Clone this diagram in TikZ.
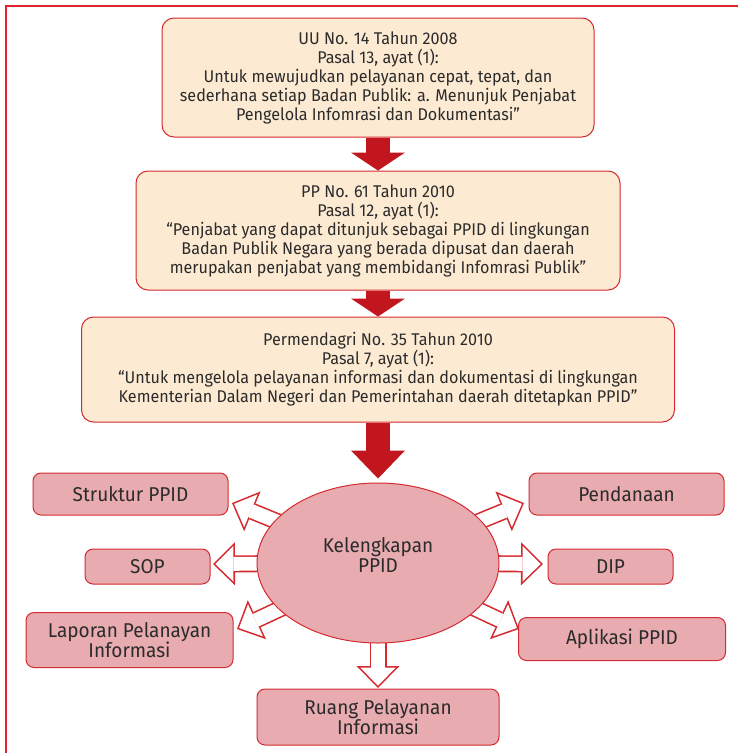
\documentclass[tikz,border=0pt]{standalone}
\usepackage{fontspec}
\setmainfont{Fira Sans}[FakeStretch=0.95]
\usetikzlibrary{positioning,shapes.geometric,arrows.meta,backgrounds}
\definecolor{arrred}{HTML}{C1161D}
\definecolor{lnred}{HTML}{D42A30}
\definecolor{framered}{HTML}{E0242C}
\definecolor{peach}{HTML}{FDEAD2}
\definecolor{rosy}{HTML}{E8ACB0}
\definecolor{ink}{HTML}{2B2B2B}
\tikzset{
  lawbx/.style={rounded corners=12pt,draw=lnred,line width=1pt,fill=peach,align=center,text=ink,font=\fontsize{17}{19}\selectfont,inner sep=0pt},
  kitbx/.style={rounded corners=8pt,draw=lnred,line width=1pt,fill=rosy,align=center,text=ink,font=\fontsize{20}{20}\selectfont,inner sep=0pt},
  kitell/.style={ellipse,draw=lnred,line width=1pt,fill=rosy,align=center,text=ink,font=\fontsize{20}{20}\selectfont,inner sep=0pt},
  redflow/.style={draw=arrred,line width=24pt,-{Triangle[length=#1,width=54pt,line width=0pt]}},
  redflow/.default=18pt,
  hollowout/.style={draw=lnred,line width=17pt,-{Triangle[length=22pt,width=43pt,line width=0pt]}},
  hollowin/.style={draw=white,line width=13.8pt,shorten >=2.29pt,-{Triangle[length=18.11pt,width=35.4pt,line width=0pt]}},
}
\begin{document}
\begin{tikzpicture}[x=1pt,y=-1pt]
\useasboundingbox (0,0) rectangle (737,753);
\draw[framered,line width=2pt] (6,760) |- (745,6);
\node[lawbx,minimum width=432pt,minimum height=119pt] (b1) at (378,77.5) {UU No. 14 Tahun 2008\\Pasal 13, ayat (1):\\Untuk mewujudkan pelayanan cepat, tepat, dan\\sederhana setiap Badan Publik: a. Menunjuk Penjabat\\Pengelola Infomrasi dan Dokumentasi”};
\node[lawbx,minimum width=484pt,minimum height=119pt] (b2) at (378,230.5) {PP No. 61 Tahun 2010\\Pasal 12, ayat (1):\\“Penjabat yang dapat ditunjuk sebagai PPID di lingkungan\\Badan Publik Negara yang berada dipusat dan daerah\\merupakan penjabat yang membidangi Infomrasi Publik”};
\node[lawbx,minimum width=593pt,minimum height=105pt] (b3) at (378,369.5) {Permendagri No. 35 Tahun 2010\\Pasal 7, ayat (1):\\“Untuk mengelola pelayanan informasi dan dokumentasi di lingkungan\\Kementerian Dalam Negeri dan Pemerintahan daerah ditetapkan PPID”};
\node[kitell,minimum width=242pt,minimum height=160pt] (ell) at (378,563) {Kelengkapan\\PPID\\[-4pt]\mbox{}};
\node[kitbx,minimum width=195pt,minimum height=42pt] (str) at (130.5,494) {Struktur PPID};
\node[kitbx,minimum width=195pt,minimum height=42pt] (pen) at (626.5,494) {Pendanaan};
\node[kitbx,minimum width=125pt,minimum height=35pt] (sop) at (147.5,566.5) {SOP};
\node[kitbx,minimum width=125pt,minimum height=35pt] (dip) at (610.5,566.5) {DIP};
\node[kitbx,minimum width=207pt,minimum height=55pt] (lap) at (129.5,640) {Laporan Pelanayan\\Informasi};
\node[kitbx,minimum width=207pt,minimum height=43pt] (apl) at (622,639) {Aplikasi PPID};
\node[kitbx,minimum width=242pt,minimum height=56pt] (rua) at (378,717) {Ruang Pelayanan\\Informasi};
\coordinate (tStr) at (232,503);
\coordinate (tPen) at (524,503);
\coordinate (tSop) at (213,564);
\coordinate (tDip) at (543,564);
\coordinate (tLap) at (237,629);
\coordinate (tApl) at (519,629);
\coordinate (tRua) at (378,688);
\begin{scope}[on background layer]
\foreach \t in {tStr,tPen,tSop,tDip,tLap,tApl,tRua} {
  \draw[hollowout] (ell.center) -- (\t);
  \draw[hollowin] (ell.center) -- (\t);
}
\end{scope}
\draw[redflow] (b1) -- (b2);
\draw[redflow] (b2) -- (b3);
\draw[redflow=28pt,shorten >=4pt] (b3) -- (ell);
\end{tikzpicture}
\end{document}
